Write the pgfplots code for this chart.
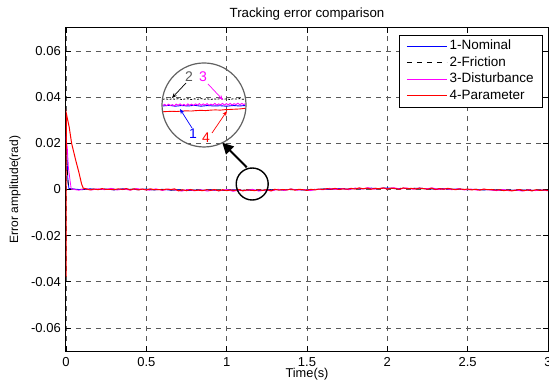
\documentclass[border=0pt]{standalone}
\usepackage{pgfplots}
\pgfplotsset{compat=1.18}
\usepackage{fontspec}
\setmainfont{Liberation Sans}
\usetikzlibrary{arrows.meta}
\definecolor{mmag}{RGB}{255,0,255}
\definecolor{mblue}{RGB}{0,0,255}
\definecolor{mred}{RGB}{255,0,0}
\begin{document}
\fontsize{13bp}{15bp}\selectfont
\begin{tikzpicture}
\begin{axis}[
  at={(0,0)}, anchor=south west,
  scale only axis, width=482bp, height=323bp,
  xmin=0, xmax=3, ymin=-0.07, ymax=0.07,
  scaled y ticks=false, scaled x ticks=false,
  xtick={0,0.5,1,1.5,2,2.5,3}, xticklabels={0,0.5,1,1.5,2,2.5,3},
  ytick={-0.06,-0.04,-0.02,0,0.02,0.04,0.06},
  yticklabels={-0.06,-0.04,-0.02,0,0.02,0.04,0.06},
  tick align=inside, major tick length=5bp,
  tick style={black, line width=0.8bp},
  grid=major, major grid style={dash pattern=on 5bp off 5bp, black!65, line width=0.8bp},
  axis line style={line width=1bp},
  ticklabel style={font=\fontsize{13bp}{15bp}\selectfont},
  xticklabel style={anchor=base, yshift=-15bp, inner sep=0pt},
  yticklabel style={anchor=east, inner sep=0pt, xshift=-5bp},
  title={Tracking error comparison},
  title style={at={(axis description cs:0.5,1)}, anchor=base, yshift=5bp, inner sep=0pt,
    font=\fontsize{13.3bp}{15bp}\selectfont},
  xlabel={Time(s)},
  xlabel style={at={(axis description cs:0.5,0)}, anchor=base, yshift=-26.5bp, inner sep=0pt,
    font=\fontsize{12.8bp}{15bp}\selectfont},
  ylabel={Error amplitude(rad)},
  ylabel style={at={(axis description cs:-0.1058,0.5)}, anchor=center, inner sep=0pt,
    font=\fontsize{12bp}{14bp}\selectfont},
  legend style={at={(axis description cs:1,1)}, anchor=north east, xshift=-5bp, yshift=-7bp,
    draw=black, line width=0.8bp, fill=white, font=\fontsize{13.5bp}{15bp}\selectfont,
    row sep=0pt, inner xsep=7bp, inner ysep=3bp,
    nodes={inner sep=2bp, text height=9.5bp, text depth=3bp}},
  legend cell align=left,
  legend image code/.code={\draw[#1, line width=1.2bp] (0bp,0.5bp) -- (40bp,0.5bp);},
]
% 1 - Nominal
\addplot[draw=mblue, line width=0.8bp] coordinates {
(0,0.024)(0.005,0.016)(0.012,0.004)(0.018,0.0005)
(0.05,0.0002)(0.1,-0.0001)(0.15,0.0003)(0.2,0)(0.25,0.0002)(0.3,-0.0002)(0.35,0.0003)(0.4,0.0001)(0.45,-0.0001)(0.5,0.0002)
(0.55,-0.0002)(0.6,0.0001)(0.65,-0.0003)(0.7,-0.0001)(0.75,-0.0005)(0.8,-0.0002)(0.85,-0.0004)(0.9,-0.0001)(0.95,-0.0005)(1.0,-0.0003)
(1.05,-0.0001)(1.1,-0.0005)(1.15,-0.0002)(1.2,-0.0004)(1.25,-0.0002)(1.3,0)(1.35,-0.0002)(1.4,0.0001)(1.45,-0.0001)(1.5,-0.0003)
(1.55,0)(1.6,0.0002)(1.65,0.0001)(1.7,0.0004)(1.75,0.0002)(1.8,0.0005)(1.85,0.0003)(1.9,0.0006)(1.95,0.0004)(2.0,0.0007)
(2.05,0.0003)(2.1,0.0005)(2.15,0.0004)(2.2,0.0006)(2.25,0.0003)(2.3,0.0002)(2.35,0.0004)(2.4,0.0001)(2.45,0.0002)(2.5,-0.0001)
(2.55,0.0001)(2.6,-0.0002)(2.65,0)(2.7,-0.0003)(2.75,-0.0002)(2.8,-0.0004)(2.85,-0.0002)(2.9,-0.0005)(2.95,-0.0003)(3.0,-0.0004)
};
\addlegendentry{1-Nominal}
% 2 - Friction
\addplot[draw=black, dash pattern=on 5bp off 5bp, line width=0.8bp] coordinates {
(0,0.017)(0.008,0.008)(0.015,0.001)
(0.025,0.0001)(0.075,0)(0.125,0.0002)(0.175,0.0001)(0.225,0)(0.275,0.0002)(0.325,0.0001)(0.375,0)(0.425,0.0002)(0.475,0.0001)
(0.525,-0.0001)(0.575,0)(0.625,-0.0001)(0.675,-0.0002)(0.725,-0.0003)(0.775,-0.0004)(0.825,-0.0003)(0.875,-0.0004)(0.925,-0.0002)(0.975,-0.0004)
(1.025,-0.0003)(1.075,-0.0004)(1.125,-0.0002)(1.175,-0.0004)(1.225,-0.0003)(1.275,-0.0002)(1.325,-0.0001)(1.375,-0.0002)(1.425,0)(1.475,-0.0001)
(1.525,0)(1.575,0.0001)(1.625,0.0002)(1.675,0.0002)(1.725,0.0003)(1.775,0.0003)(1.825,0.0004)(1.875,0.0005)(1.925,0.0004)(1.975,0.0005)
(2.025,0.0004)(2.075,0.0005)(2.125,0.0004)(2.175,0.0005)(2.225,0.0003)(2.275,0.0003)(2.325,0.0002)(2.375,0.0002)(2.425,0.0001)(2.475,0)
(2.525,0)(2.575,-0.0001)(2.625,-0.0001)(2.675,-0.0002)(2.725,-0.0003)(2.775,-0.0003)(2.825,-0.0004)(2.875,-0.0003)(2.925,-0.0004)(2.975,-0.0003)
};
\addlegendentry{2-Friction}
% 3 - Disturbance
\addplot[draw=mmag, line width=0.8bp] coordinates {
(0,0.023)(0.008,0.018)(0.015,0.0095)(0.025,0.004)(0.032,0.0004)
(0.04,0.0001)(0.08,-0.0003)(0.12,0.0004)(0.16,-0.0002)(0.2,0.0003)(0.24,-0.0001)(0.28,0.0005)(0.32,-0.0002)(0.36,0.0002)(0.4,-0.0003)
(0.44,0.0004)(0.48,0)(0.52,-0.0003)(0.56,0.0003)(0.6,-0.0004)(0.64,0.0002)(0.68,-0.0002)(0.72,-0.0007)(0.76,0)(0.8,-0.0006)
(0.84,-0.0001)(0.88,-0.0007)(0.92,-0.0002)(0.96,-0.0005)(1.0,0)(1.04,-0.0008)(1.08,-0.0002)(1.12,-0.0005)(1.16,0.0001)(1.2,-0.0007)
(1.24,-0.0003)(1.28,-0.0006)(1.32,0.0001)(1.36,-0.0004)(1.4,0.0002)(1.44,-0.0003)(1.48,0)(1.52,-0.0005)(1.56,0.0001)(1.6,-0.0001)
(1.64,0.0005)(1.68,0)(1.72,0.0004)(1.76,-0.0001)(1.8,0.0006)(1.84,0.0002)(1.88,0.0008)(1.92,0.0001)(1.96,0.0006)(2.0,0.0003)
(2.04,0.0008)(2.08,0.0002)(2.12,0.0007)(2.16,0.0001)(2.2,0.0006)(2.24,0.0003)(2.28,0.0007)(2.32,0)(2.36,0.0004)(2.4,-0.0001)
(2.44,0.0003)(2.48,-0.0002)(2.52,0.0002)(2.56,-0.0003)(2.6,0.0001)(2.64,-0.0002)(2.68,-0.0005)(2.72,0)(2.76,-0.0006)(2.8,-0.0002)
(2.84,-0.0007)(2.88,-0.0001)(2.92,-0.0005)(2.96,-0.0002)(3.0,-0.0006)
};
\addlegendentry{3-Disturbance}
% 4 - Parameter
\addplot[draw=mred, line width=1bp] coordinates {
(0,-0.038)(0.002,0.033)(0.02,0.027)(0.035,0.020)(0.06,0.0128)(0.08,0.0075)(0.097,0.0024)(0.107,0.0006)
(0.125,0.0003)(0.15,-0.0002)(0.175,0.0002)(0.2,-0.0001)(0.225,0.0004)(0.25,0)(0.275,0.0001)(0.3,-0.0001)(0.325,0.0003)(0.35,0)
(0.375,0.0004)(0.4,-0.0002)(0.425,0.0003)(0.45,-0.0002)(0.475,0.0002)(0.5,-0.0002)(0.525,0.0003)(0.55,-0.0001)(0.575,0)(0.6,-0.0002)
(0.625,0.0002)(0.65,-0.0001)(0.675,0.0003)(0.7,-0.0006)(0.725,-0.0001)(0.75,-0.0005)(0.775,0)(0.8,-0.0004)(0.825,-0.0003)(0.85,-0.0005)
(0.875,-0.0001)(0.9,-0.0004)(0.925,0)(0.95,-0.0006)(0.975,-0.0001)(1.0,-0.0005)(1.025,-0.0002)(1.05,-0.0004)(1.075,0)(1.1,-0.0006)
(1.125,-0.0002)(1.15,-0.0003)(1.175,-0.0005)(1.2,-0.0001)(1.225,-0.0004)(1.25,0)(1.275,-0.0006)(1.3,0.0001)(1.325,-0.0003)(1.35,0)
(1.375,-0.0002)(1.4,0.0002)(1.425,-0.0003)(1.45,0.0001)(1.475,-0.0001)(1.5,-0.0004)(1.525,0.0001)(1.55,-0.0002)(1.575,0.0002)(1.6,0)
(1.625,0.0004)(1.65,0.0001)(1.675,0.0005)(1.7,0)(1.725,0.0003)(1.75,0.0001)(1.775,0.0005)(1.8,0.0002)(1.825,0.0007)(1.85,0.0003)
(1.875,0.0006)(1.9,0.0001)(1.925,0.0005)(1.95,0.0003)(1.975,0.0007)(2.0,0.0002)(2.025,0.0006)(2.05,0.0004)(2.075,0.0001)(2.1,0.0007)
(2.125,0.0003)(2.15,0.0005)(2.175,0.0002)(2.2,0.0006)(2.225,0.0004)(2.25,0.0001)(2.275,0.0006)(2.3,0)(2.325,0.0004)(2.35,0.0001)
(2.375,0.0005)(2.4,0.0002)(2.425,-0.0001)(2.45,0.0003)(2.475,0)(2.5,0.0002)(2.525,-0.0002)(2.55,0.0001)(2.575,-0.0003)(2.6,0.0002)
(2.625,-0.0001)(2.65,0)(2.675,-0.0003)(2.7,-0.0001)(2.725,-0.0005)(2.75,-0.0002)(2.775,-0.0006)(2.8,-0.0003)(2.825,0)(2.85,-0.0005)
(2.875,-0.0002)(2.9,-0.0006)(2.925,-0.0001)(2.95,-0.0004)(2.975,-0.0002)(3.0,-0.0004)
};
\addlegendentry{4-Parameter}
% ---- inset (zoomed view) ----
\addplot[draw=black, dash pattern=on 2bp off 1.5bp, line width=0.8bp, forget plot] coordinates {
(0.602,0.0391)(0.62,0.0393)(0.64,0.0390)(0.66,0.0393)(0.68,0.0391)(0.70,0.0394)(0.72,0.0390)(0.74,0.0392)(0.76,0.0393)(0.78,0.0390)
(0.80,0.0393)(0.82,0.0391)(0.84,0.0394)(0.86,0.0391)(0.88,0.0393)(0.90,0.0390)(0.92,0.0393)(0.94,0.0391)(0.96,0.0394)(0.98,0.0391)
(1.00,0.0393)(1.02,0.0390)(1.04,0.0393)(1.06,0.0392)(1.08,0.0394)(1.10,0.0391)(1.116,0.0393)
};
\addplot[draw=mblue, line width=0.9bp, forget plot] coordinates {
(0.602,0.0362)(0.64,0.0365)(0.68,0.0361)(0.72,0.0364)(0.76,0.0362)(0.80,0.0365)(0.84,0.0361)(0.88,0.0364)(0.92,0.0362)(0.96,0.0363)
(1.00,0.0361)(1.04,0.0364)(1.08,0.0362)(1.116,0.0364)
};
\addplot[draw=mmag, line width=0.9bp, forget plot] coordinates {
(0.602,0.0364)(0.614,0.0369)(0.626,0.0363)(0.638,0.0370)(0.650,0.0364)(0.662,0.0368)(0.674,0.0362)(0.686,0.0370)(0.698,0.0365)(0.710,0.0371)
(0.722,0.0364)(0.734,0.0369)(0.746,0.0363)(0.758,0.0371)(0.770,0.0365)(0.782,0.0370)(0.794,0.0364)(0.806,0.0371)(0.818,0.0366)(0.830,0.0372)
(0.842,0.0365)(0.854,0.0371)(0.866,0.0366)(0.878,0.0372)(0.890,0.0365)(0.902,0.0370)(0.914,0.0366)(0.926,0.0373)(0.938,0.0366)(0.950,0.0371)
(0.962,0.0367)(0.974,0.0373)(0.986,0.0366)(0.998,0.0372)(1.010,0.0367)(1.022,0.0373)(1.034,0.0366)(1.046,0.0372)(1.058,0.0368)(1.070,0.0374)
(1.082,0.0367)(1.094,0.0373)(1.106,0.0368)(1.116,0.0372)
};
\addplot[draw=mred, line width=0.9bp, forget plot] coordinates {
(0.602,0.0337)(0.63,0.0338)(0.66,0.0339)(0.69,0.0338)(0.72,0.0340)(0.75,0.0341)(0.78,0.0340)(0.81,0.0342)(0.84,0.0343)(0.87,0.0342)
(0.90,0.0344)(0.93,0.0345)(0.96,0.0344)(0.99,0.0346)(1.02,0.0347)(1.05,0.0348)(1.08,0.0349)(1.116,0.0352)
};
\draw[black!62, line width=1.2bp] (axis cs:0.859,0.03663) circle[radius=42bp];
\node[text=black!65, font=\fontsize{14bp}{16bp}\selectfont, inner sep=0pt] at (axis cs:0.7655,0.0488) {2};
\node[text=mmag, font=\fontsize{14bp}{16bp}\selectfont, inner sep=0pt] at (axis cs:0.8527,0.0488) {3};
\node[text=mblue, font=\fontsize{14bp}{16bp}\selectfont, inner sep=0pt] at (axis cs:0.7904,0.02406) {1};
\node[text=mred, font=\fontsize{14bp}{16bp}\selectfont, inner sep=0pt] at (axis cs:0.8714,0.02232) {4};
\draw[black, line width=0.7bp, -{Stealth[length=5bp,width=4bp]}] (axis cs:0.7469,0.04616) -- (axis cs:0.6597,0.03966);
\draw[mmag, line width=0.7bp, -{Stealth[length=5bp,width=4bp]}] (axis cs:0.8838,0.04573) -- (axis cs:0.9772,0.03879);
\draw[mblue, line width=0.7bp, -{Stealth[length=5bp,width=4bp]}] (axis cs:0.7842,0.02666) -- (axis cs:0.7095,0.03489);
\draw[mred, line width=0.7bp, -{Stealth[length=5bp,width=4bp]}] (axis cs:0.9087,0.02449) -- (axis cs:1.002,0.03403);
\draw[black, line width=1.4bp] (axis cs:1.159,0.00238) circle[radius=16bp];
\draw[black, line width=2bp, -{Triangle[length=11bp,width=11bp]}] (axis cs:1.1247,0.00962) -- (axis cs:0.9728,0.02029);
\end{axis}
\pgfresetboundingbox
\useasboundingbox (-66bp,-31bp) rectangle (483bp,351bp);
\end{tikzpicture}
\end{document}
